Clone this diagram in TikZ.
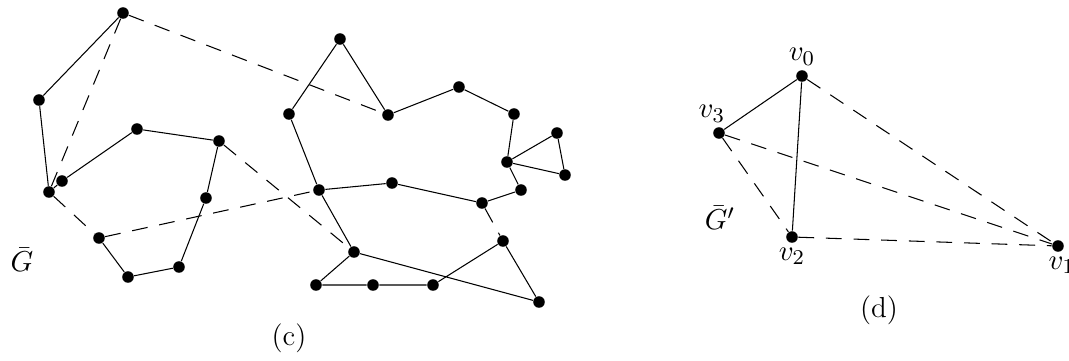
\documentclass[tikz,border=0pt]{standalone}
\usepackage{amsmath}
\usepackage{amssymb}
\usepackage{tikz}

\begin{document}
\begin{tikzpicture}[x=0.38pt, y=-0.38pt,
  dot/.style={circle, fill=black, inner sep=0pt, minimum size=4.4pt},
  nonedge/.style={dash pattern=on 6pt off 4.5pt},
  lbl/.style={font=\fontsize{11}{13}\selectfont, inner sep=1.5pt}]
\useasboundingbox (0,0) rectangle (1069,361);

% left part (c)
\node[dot] (a1) at (123,13) {};
\node[dot] (a2) at (39,100) {};
\node[dot] (a3) at (49,192) {};
\node[dot] (a4) at (62,181) {};
\node[dot] (a5) at (137,129) {};
\node[dot] (a6) at (219,141) {};
\node[dot] (a7) at (206,198) {};
\node[dot] (a8) at (179,267) {};
\node[dot] (a9) at (128,277) {};
\node[dot] (a10) at (99,238) {};

\node[dot] (b1) at (340,39) {};
\node[dot] (b2) at (289,114) {};
\node[dot] (b3) at (388,115) {};
\node[dot] (b4) at (459,87) {};
\node[dot] (b5) at (514,114) {};
\node[dot] (b6) at (507,162) {};
\node[dot] (b7) at (557,133) {};
\node[dot] (b8) at (565,175) {};
\node[dot] (b9) at (521,190) {};
\node[dot] (b10) at (482,203) {};
\node[dot] (b11) at (319,190) {};
\node[dot] (b12) at (392,183) {};
\node[dot] (b13) at (354,252) {};
\node[dot] (b14) at (316,285) {};
\node[dot] (b15) at (373,285) {};
\node[dot] (b16) at (433,285) {};
\node[dot] (b17) at (503,241) {};
\node[dot] (b18) at (539,302) {};

\draw (a1) -- (a2) -- (a3) -- (a4) -- (a5) -- (a6) -- (a7) -- (a8) -- (a9) -- (a10);
\draw (b3) -- (b1) -- (b2) -- (b11) -- (b12) -- (b10) -- (b9) -- (b6) -- (b5) -- (b4) -- (b3);
\draw (b6) -- (b7) -- (b8) -- (b6);
\draw (b11) -- (b13) -- (b14) -- (b15) -- (b16) -- (b17) -- (b18) -- (b13);

% dashed ones
\draw[nonedge] (a1) -- (a3);
\draw[nonedge] (a1) -- (b3);
\draw[nonedge] (a3) -- (a10);
\draw[nonedge] (a10) -- (b11);
\draw[nonedge] (a6) -- (b13);
\draw[nonedge] (b10) -- (b17);

\node[lbl] (gbar) at (22,260) {$\bar{G}$};
\node[lbl] (capc) at (289,338) {(c)};

% right part (d)
\node[dot] (v0) at (802,76) {};
\node[dot] (v1) at (1058,246) {};
\node[dot] (v2) at (792,237) {};
\node[dot] (v3) at (719,133) {};
\node[lbl, above] at (v0.north) {$v_0$};
\node[lbl, below, xshift=1.5pt] at (v1.south) {$v_1$};
\node[lbl, below] at (v2.south) {$v_2$};
\node[lbl, above left, xshift=4pt] at (v3.north) {$v_3$};

\draw (v3) -- (v0) -- (v2);
\draw[nonedge] (v0) -- (v1);
\draw[nonedge] (v3) -- (v1);
\draw[nonedge] (v3) -- (v2);
\draw[nonedge] (v2) -- (v1);

\node[lbl] (gprime) at (720,218) {$\bar{G}'$};
\node[lbl] (capd) at (879,310) {(d)};
\end{tikzpicture}
\end{document}
